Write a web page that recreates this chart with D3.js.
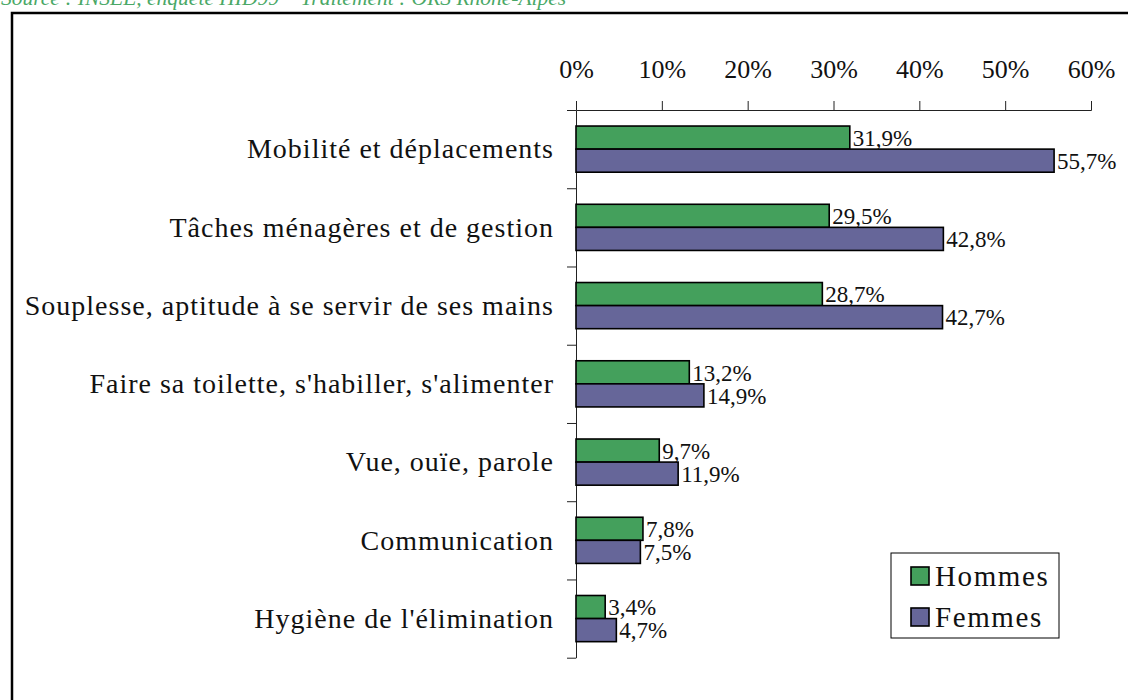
<!DOCTYPE html>
<html>
<head>
<meta charset="utf-8">
<script src="https://cdn.jsdelivr.net/npm/d3@7"></script>
<style>
  body { margin: 0; background: #fff; }
  .axis path, .axis line { stroke: #222; stroke-width: 1; }
</style>
</head>
<body>
<svg width="1128" height="700"></svg>
<script>
var categories = [
    "Mobilité et déplacements",
    "Tâches ménagères et de gestion",
    "Souplesse, aptitude à se servir de ses mains",
    "Faire sa toilette, s'habiller, s'alimenter",
    "Vue, ouïe, parole",
    "Communication",
    "Hygiène de l'élimination"
];
var series = ["Hommes", "Femmes"];
var hommes = [31.9, 29.5, 28.7, 13.2, 9.7, 7.8, 3.4];
var femmes = [55.7, 42.8, 42.7, 14.9, 11.9, 7.5, 4.7];
var xTicks = [0, 10, 20, 30, 40, 50, 60];
var colors = ["#44a05c", "#666699"];
var sourceText = "Source : INSEE, enquête HID99 – Traitement : ORS Rhône-Alpes";

var serif = "'Liberation Serif', 'Times New Roman', Times, serif";
var svg = d3.select("svg");

// outer frame, runs off the page right and bottom
svg.append("rect")
    .attr("x", 12).attr("y", 13)
    .attr("width", 1300).attr("height", 900)
    .attr("fill", "none")
    .attr("stroke", "#000")
    .attr("stroke-width", 2.5);

svg.append("text")
    .attr("x", 1).attr("y", 5)
    .style("font-family", serif)
    .style("font-style", "italic")
    .style("font-size", "21.5px")
    .style("fill", "#4aa866")
    .text(sourceText);

var plotTop = 110, plotBottom = 657.7;

var x = d3.scaleLinear()
    .domain([0, 60])
    .range([576, 1091]);

var y = d3.scaleBand()
    .domain(categories)
    .range([plotTop, plotBottom])
    .paddingInner(0.41)
    .paddingOuter(0.205);

var ySub = d3.scaleBand()
    .domain(series)
    .range([0, y.bandwidth()]);

var yTick = d3.scaleLinear()
    .domain([0, categories.length])
    .range([plotTop, plotBottom]);

// top axis
var xAxis = svg.append("g")
    .attr("class", "axis")
    .attr("transform", "translate(0," + plotTop + ")")
    .call(d3.axisTop(x)
        .tickValues(xTicks)
        .tickSize(9)
        .tickSizeOuter(9)
        .tickPadding(23)
        .tickFormat(function(d) { return d + "%"; }));
xAxis.attr("font-family", null).attr("font-size", null);
xAxis.selectAll("text")
    .style("font-family", serif)
    .style("font-size", "26px")
    .style("fill", "#111");

// left axis, ticks between categories
svg.append("g")
    .attr("class", "axis")
    .attr("transform", "translate(576,0)")
    .call(d3.axisLeft(yTick)
        .tickValues(d3.range(categories.length + 1))
        .tickSize(9)
        .tickSizeOuter(0)
        .tickFormat(""));

// category labels
svg.append("g")
    .selectAll("text")
    .data(categories)
    .enter()
    .append("text")
    .attr("x", 554)
    .attr("y", function(d) { return y(d) + y.bandwidth() / 2; })
    .attr("dy", "0.33em")
    .style("text-anchor", "end")
    .style("font-family", serif)
    .style("font-size", "28px")
    .style("letter-spacing", "1px")
    .style("fill", "#111")
    .text(function(d) { return d; });

var rows = [];
categories.forEach(function(c, i) {
    rows.push({cat: c, serie: "Hommes", value: hommes[i], color: colors[0]});
    rows.push({cat: c, serie: "Femmes", value: femmes[i], color: colors[1]});
});

svg.append("g")
    .selectAll("rect")
    .data(rows)
    .enter()
    .append("rect")
    .attr("x", x(0))
    .attr("y", function(d) { return y(d.cat) + ySub(d.serie); })
    .attr("width", function(d) { return x(d.value) - x(0); })
    .attr("height", ySub.bandwidth())
    .attr("fill", function(d) { return d.color; })
    .attr("stroke", "#000")
    .attr("stroke-width", 1.6);

svg.append("g")
    .selectAll("text")
    .data(rows)
    .enter()
    .append("text")
    .attr("x", function(d) { return x(d.value) + 3; })
    .attr("y", function(d) { return y(d.cat) + ySub(d.serie) + ySub.bandwidth() / 2; })
    .attr("dy", "0.36em")
    .style("font-family", serif)
    .style("font-size", "23px")
    .style("fill", "#111")
    .text(function(d) { return d3.format(".1f")(d.value).replace(".", ",") + "%"; });

// legend
var legend = svg.append("g");
legend.append("rect")
    .attr("x", 891).attr("y", 553)
    .attr("width", 168).attr("height", 85)
    .attr("fill", "#fff")
    .attr("stroke", "#000")
    .attr("stroke-width", 1);
series.forEach(function(s, i) {
    legend.append("rect")
        .attr("x", 911).attr("y", 567 + i * 41)
        .attr("width", 18).attr("height", 18)
        .attr("fill", colors[i])
        .attr("stroke", "#000")
        .attr("stroke-width", 1.6);
    legend.append("text")
        .attr("x", 935).attr("y", 586 + i * 41)
        .style("font-family", serif)
        .style("font-size", "29px")
        .style("letter-spacing", "1.6px")
        .style("fill", "#111")
        .text(s);
});
</script>
</body>
</html>
